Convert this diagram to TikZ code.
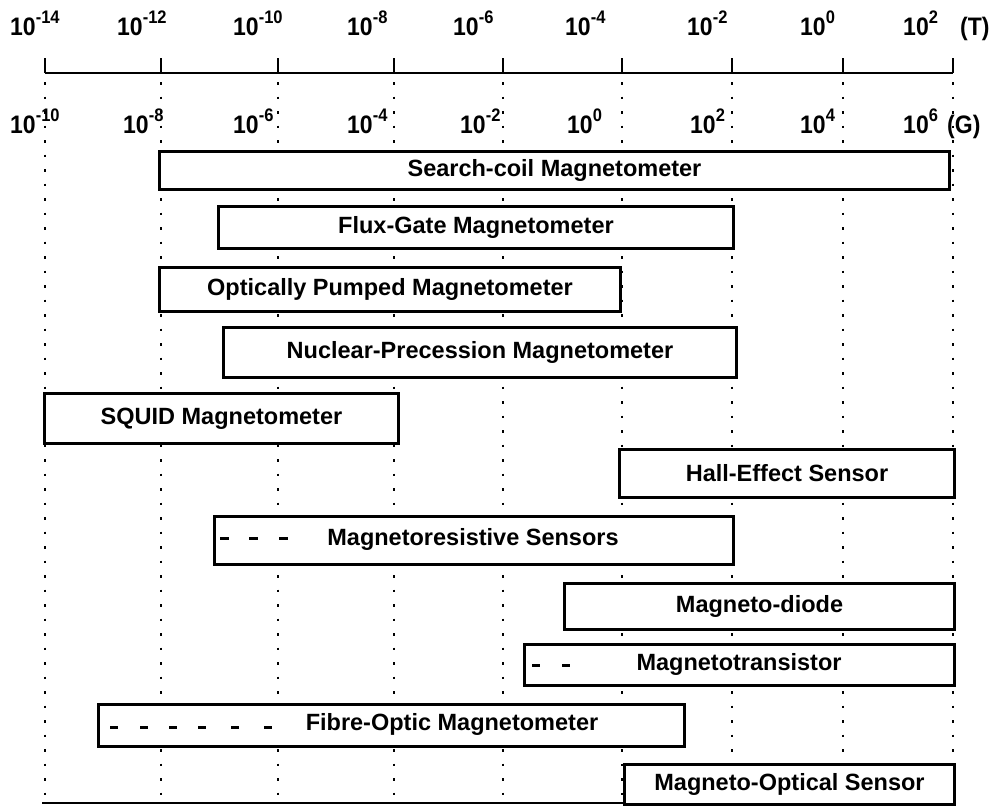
\documentclass[tikz,border=0pt]{standalone}
\usepackage{fontspec}
\setmainfont{Liberation Sans}
\newcommand{\tenpow}[1]{\scalebox{1}[1.1]{10\raisebox{10.5pt}{\fontsize{16.5}{16.5}\selectfont #1}}}
\begin{document}
\begin{tikzpicture}[x=1pt,y=-1pt,
  box/.style={draw, line width=3pt, fill=white, inner sep=0pt, anchor=north west,
    font=\fontsize{23.5}{26}\selectfont\bfseries},
  lbl/.style={anchor=base west, inner sep=0pt, font=\fontsize{23}{24}\selectfont\bfseries},
  dotline/.style={line width=2pt, dash pattern=on 2.5pt off 12pt},
  axisline/.style={line width=2pt},
  dashmark/.style={line width=3pt}]
\useasboundingbox (0,0) rectangle (990,807);
% axis with ticks
\foreach \i/\x in {0/45,1/161,2/278,3/394,4/503,5/622,6/732,7/843,8/953}{
  \coordinate (t\i) at (\x,73);
  \coordinate (d\i) at (\x,82);
  \coordinate (e\i) at (\x,800);
}
\foreach \i in {0,...,8}{
  \draw[dotline] (d\i) -- (e\i);
  \draw[axisline] (t\i) -- ++(0,-15);
}
\draw[axisline] (t0) -- (t8);
\coordinate (bl) at (42,803);
\coordinate (br) at (953,803);
\draw[axisline] (bl) -- (br);
% top labels (T)
\node[lbl] (T0) at (10,35) {\tenpow{-14}};
\node[lbl] (T1) at (117,35) {\tenpow{-12}};
\node[lbl] (T2) at (233,35) {\tenpow{-10}};
\node[lbl] (T3) at (347,35) {\tenpow{-8}};
\node[lbl] (T4) at (453,35) {\tenpow{-6}};
\node[lbl] (T5) at (565,35) {\tenpow{-4}};
\node[lbl] (T6) at (687,35) {\tenpow{-2}};
\node[lbl] (T7) at (800,35) {\tenpow{0}};
\node[lbl] (T8) at (903,35) {\tenpow{2}};
\node[lbl] (Tu) at (960,35) {\scalebox{1}[1.1]{(T)}};
% bottom labels (G)
\node[lbl] (G0) at (10,133) {\tenpow{-10}};
\node[lbl] (G1) at (123,133) {\tenpow{-8}};
\node[lbl] (G2) at (233,133) {\tenpow{-6}};
\node[lbl] (G3) at (347,133) {\tenpow{-4}};
\node[lbl] (G4) at (460,133) {\tenpow{-2}};
\node[lbl] (G5) at (567,133) {\tenpow{0}};
\node[lbl] (G6) at (690,133) {\tenpow{2}};
\node[lbl] (G7) at (800,133) {\tenpow{4}};
\node[lbl] (G8) at (903,133) {\tenpow{6}};
\node[lbl] (Gu) at (947,133) {\scalebox{1}[1.1]{(G)}};
% range boxes
\node[box, minimum width=790, minimum height=38] (sc) at (158,150) {Search-coil Magnetometer};
\node[box, minimum width=515, minimum height=42] (fg) at (217,205) {Flux-Gate Magnetometer};
\node[box, minimum width=461, minimum height=44] (op) at (158,266) {Optically Pumped Magnetometer};
\node[box, minimum width=513, minimum height=50] (np) at (222,326) {Nuclear-Precession Magnetometer};
\node[box, minimum width=354, minimum height=50] (sq) at (43,392) {SQUID Magnetometer};
\node[box, minimum width=335, minimum height=48] (he) at (618,448) {Hall-Effect Sensor};
\node[box, minimum width=519, minimum height=48] (mr) at (213,515) {\hspace*{0pt}};
\node[font=\fontsize{23.5}{26}\selectfont\bfseries, inner sep=0pt] (mrt) at (473,539) {Magnetoresistive Sensors};
\node[box, minimum width=390, minimum height=46] (md) at (563,582) {Magneto-diode};
\node[box, minimum width=430, minimum height=41] (mt) at (523,643) {\hspace*{0pt}};
\node[font=\fontsize{23.5}{26}\selectfont\bfseries, inner sep=0pt] (mtt) at (739,664) {Magnetotransistor};
\node[box, minimum width=586, minimum height=42] (fo) at (97,703) {\hspace*{0pt}};
\node[font=\fontsize{23.5}{26}\selectfont\bfseries, inner sep=0pt] (fot) at (452,724) {Fibre-Optic Magnetometer};
\node[box, minimum width=330, minimum height=40] (mo) at (623,763) {Magneto-Optical Sensor};
% dash marks inside boxes
\foreach \x in {220,249,279}{\draw[dashmark] (\x,538) -- ++(9,0);}
\foreach \x in {532,562}{\draw[dashmark] (\x,665) -- ++(8,0);}
\foreach \x in {110,140,169,198,231,264}{\draw[dashmark] (\x,727) -- ++(8,0);}
\end{tikzpicture}
\end{document}
